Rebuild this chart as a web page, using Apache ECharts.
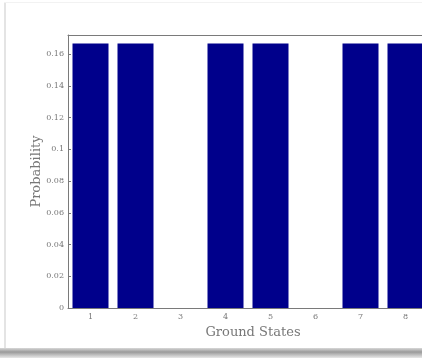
<!DOCTYPE html>
<html>
<head>
<meta charset="utf-8">
<script src="https://cdn.jsdelivr.net/npm/echarts@6/dist/echarts.min.js"></script>
<style>
  html, body { margin: 0; padding: 0; background: #fff; overflow: hidden; }
  #plot { width: 440px; height: 358px; }
</style>
</head>
<body>
<div id="plot"></div>
<script>
// ground states and their probability
var states = ['1', '2', '3', '4', '5', '6', '7', '8'];
var probs = [0.1667, 0.1667, 0, 0.1667, 0.1667, 0, 0.1667, 0.1667];

var serif = 'DejaVu Serif';
var axisGrey = '#7a7a7a';

var myChart = echarts.init(document.getElementById('plot'));

var option = {
  animation: false,
  backgroundColor: '#fff',
  grid: { left: 68, top: 35, right: 12, bottom: 50 },
  xAxis: [{
    type: 'category',
    data: states,
    name: 'Ground States',
    nameLocation: 'middle',
    nameGap: 17,
    nameTextStyle: { fontFamily: serif, fontSize: 13, color: '#777', padding: [0, 0, 0, 10] },
    axisLine: { lineStyle: { color: axisGrey, width: 1 } },
    axisTick: { inside: true, alignWithLabel: true, length: 3, lineStyle: { color: axisGrey } },
    axisLabel: { fontFamily: serif, fontSize: 8, color: '#777', margin: 5 },
    splitLine: { show: false }
  }, {
    type: 'category',
    data: states,
    position: 'top',
    axisLine: { lineStyle: { color: axisGrey, width: 1 } },
    axisTick: { inside: true, alignWithLabel: true, length: 3, lineStyle: { color: axisGrey } },
    axisLabel: { show: false }
  }],
  yAxis: {
    type: 'value',
    min: 0,
    max: 0.172,
    interval: 0.02,
    name: 'Probability',
    nameLocation: 'middle',
    nameGap: 25,
    nameMoveOverlap: false,
    nameTextStyle: { fontFamily: serif, fontSize: 13, color: '#777' },
    axisLine: { show: true, lineStyle: { color: axisGrey, width: 1 } },
    axisTick: { show: true, inside: true, length: 3, lineStyle: { color: axisGrey } },
    axisLabel: {
      fontFamily: serif, fontSize: 8, color: '#777', margin: 4,
      showMaxLabel: false,
      formatter: function (v) { return String(+v.toFixed(2)); }
    },
    splitLine: { show: false }
  },
  series: [{
    type: 'bar',
    data: probs,
    barCategoryGap: '20%',
    itemStyle: { color: '#00008b' }
  }],
  graphic: [
    { type: 'rect', shape: { x: 4, y: 3, width: 2, height: 346 }, style: { fill: '#e4e4e4' }, silent: true },
    { type: 'rect', shape: { x: 4, y: 2, width: 440, height: 1 }, style: { fill: '#f2f2f2' }, silent: true },
    {
      type: 'rect', shape: { x: 0, y: 348, width: 440, height: 10 }, silent: true,
      style: {
        fill: new echarts.graphic.LinearGradient(0, 0, 0, 1, [
          { offset: 0, color: '#d8d8d8' },
          { offset: 0.4, color: '#9a9a9a' },
          { offset: 1, color: '#e8e8e8' }
        ])
      }
    }
  ]
};

myChart.setOption(option);
</script>
</body>
</html>
